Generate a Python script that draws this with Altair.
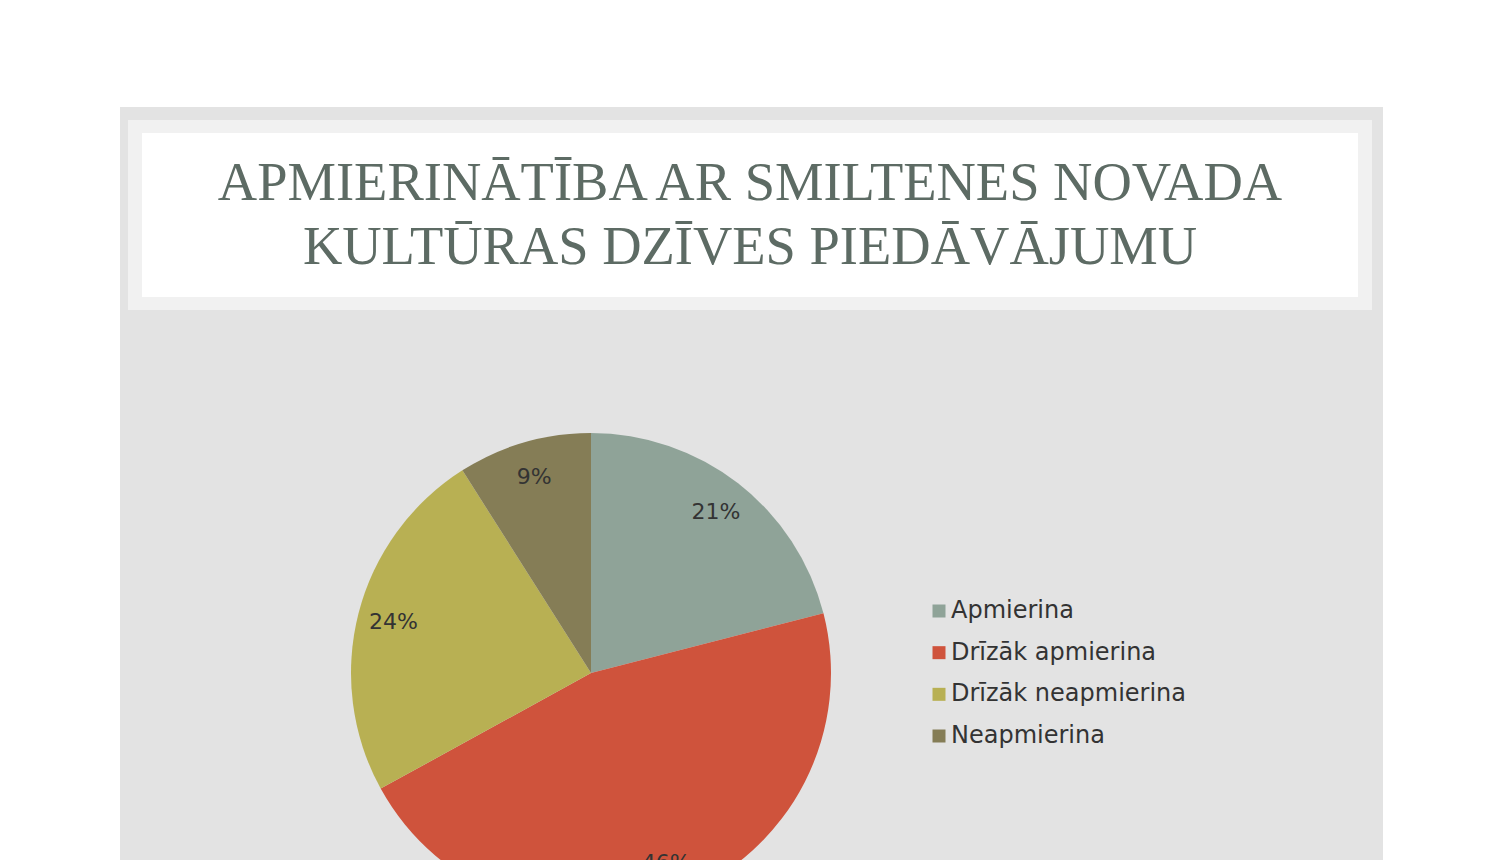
import altair as alt
import pandas as pd

categories = ["Apmierina", "Drīzāk apmierina", "Drīzāk neapmierina", "Neapmierina"]
values = [21, 46, 24, 9]
labels = ["21%", "46%", "24%", "9%"]
colors = ["#8fa398", "#cf533c", "#b8b053", "#857d56"]
title_lines = ["APMIERINĀTĪBA AR SMILTENES NOVADA", "KULTŪRAS DZĪVES PIEDĀVĀJUMU"]

W, H = 1484, 900

df = pd.DataFrame({
    "cat": categories,
    "value": values,
    "label": labels,
    "order": list(range(len(categories))),
})
tdf = pd.DataFrame({"line": title_lines, "idx": [0, 1]})
one = pd.DataFrame({"a": [0]})

color = alt.Color("cat:N", scale=alt.Scale(domain=categories, range=colors), legend=None)

panel = alt.Chart(one).mark_rect(color="#e3e3e3").encode(
    x=alt.value(112), x2=alt.value(1375), y=alt.value(99), y2=alt.value(H)
)
frame = alt.Chart(one).mark_rect(color="#f1f1f1").encode(
    x=alt.value(120), x2=alt.value(1364), y=alt.value(112), y2=alt.value(302)
)
inner = alt.Chart(one).mark_rect(color="#ffffff").encode(
    x=alt.value(134), x2=alt.value(1350), y=alt.value(125), y2=alt.value(289)
)

title = alt.Chart(tdf).mark_text(
    font="Liberation Serif", fontSize=54.5, color="#5d6b64", align="center", baseline="alphabetic"
).encode(
    x=alt.value(742),
    y=alt.Y("idx:Q", scale=alt.Scale(domain=[0, 1], range=[192, 256]), axis=None),
    text="line:N",
)

base = alt.Chart(df).encode(
    theta=alt.Theta("value:Q", stack=True),
    order=alt.Order("order:Q"),
    color=color,
)
pie = base.mark_arc(outerRadius=240).encode(x=alt.value(583), y=alt.value(665))
pie_labels = base.mark_text(radius=204, font="DejaVu Sans", fontSize=22, color="#333333").encode(
    x=alt.value(583), y=alt.value(665), text="label:N", color=alt.value("#333333")
)

leg_y = alt.Y("order:Q", scale=alt.Scale(domain=[0, 3], range=[603, 728]), axis=None)
leg_sq = alt.Chart(df).mark_square(size=169, opacity=1).encode(
    x=alt.value(931), y=leg_y, color=color
)
leg_tx = alt.Chart(df).mark_text(
    font="DejaVu Sans", fontSize=24, color="#333333", align="left", baseline="middle"
).encode(x=alt.value(943), y=leg_y, text="cat:N")

chart = alt.layer(panel, frame, inner, title, pie, pie_labels, leg_sq, leg_tx).resolve_scale(
    y="independent"
).properties(
    width=W, height=H, padding=0, background="#ffffff"
).configure_view(stroke=None)

chart.save("out.html", embed_options={"renderer": "svg", "actions": False})
